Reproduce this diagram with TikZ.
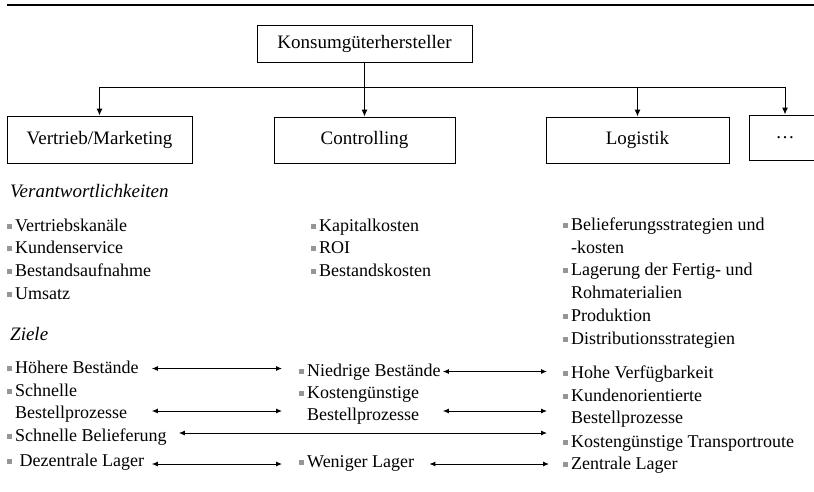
\documentclass[tikz,border=0pt]{standalone}
\usepackage{fontspec}
\setmainfont{Liberation Serif}
\usepackage{tikz}
\usetikzlibrary{calc, arrows.meta}
\definecolor{bulletgray}{RGB}{150,150,150}
\newcommand{\sqb}{{\color{bulletgray}\rule[2.5pt]{5pt}{5pt}}\hspace{3pt}}
\newcommand{\hang}{\hspace{8pt}}

\begin{document}
\begin{tikzpicture}[x=1pt, y=-1pt,
    box/.style={draw, line width=1pt, inner sep=0pt, font=\fontsize{19}{23}\selectfont},
    lst/.style={inner sep=0pt, anchor=north west, align=left, font=\fontsize{18}{22.8}\selectfont},
    goal/.style={inner sep=0pt, anchor=base west, font=\fontsize{18}{22.8}\selectfont, text height=13pt, text depth=4pt},
    head/.style={inner sep=0pt, anchor=base west, font=\fontsize{19}{23}\selectfont\itshape},
    zarrow/.style={{Latex[length=6pt, width=5pt]}-{Latex[length=6pt, width=5pt]}, line width=0.9pt}]
            \useasboundingbox (0,0) rectangle (814,491);
            \draw[line width=1.5pt] (7,5) -- (814,5);

            % Organigramm
            \node[box, minimum width=215pt, minimum height=37pt] (konsum) at (364.5,43.5) {Konsumgüterhersteller};
            \node[box, minimum width=185pt, minimum height=47pt] (vertrieb) at (99.5,139.5) {Vertrieb/Marketing};
            \node[box, minimum width=181pt, minimum height=46pt] (controlling) at (364.5,140) {Controlling};
            \node[box, minimum width=183pt, minimum height=46pt] (logistik) at (637.5,140) {Logistik};
            \node[box, minimum width=72pt, minimum height=45pt] (weitere) at (785,137.5) {…};
            \coordinate (bus) at (364.5,87);
            \draw[line width=1pt] (konsum.south) -- (bus);
            \foreach \n in {vertrieb,controlling,logistik,weitere}
                \draw[line width=1pt, -{Latex[length=7pt, width=6pt]}] (bus) -| (\n.north);

            % Verantwortlichkeiten
            \node[head] (verantw) at (10,197) {Verantwortlichkeiten};
            \node[lst] (vertriebL) at (7,218.5) {\sqb Vertriebskanäle\\ \sqb Kundenservice\\ \sqb Bestandsaufnahme\\ \sqb Umsatz};
            \node[lst] (controllingL) at (311,218.5) {\sqb Kapitalkosten\\ \sqb ROI\\ \sqb Bestandskosten};
            \node[lst] (logistikL) at (563,217.5) {\sqb Belieferungsstrategien und\\ \hang -kosten\\ \sqb Lagerung der Fertig- und\\ \hang Rohmaterialien\\ \sqb Produktion\\ \sqb Distributionsstrategien};

            % Ziele
            \node[head] (ziele) at (10,340) {Ziele};
            \node[goal] (hoeher) at (7,373) {\sqb Höhere Bestände};
            \node[goal] (schnell) at (7,396) {\sqb Schnelle};
            \node[goal] (bestA) at (7,418) {\hang Bestellprozesse};
            \node[goal] (beliefer) at (7,441) {\sqb Schnelle Belieferung};
            \node[goal] (dezentral) at (7,466) {\sqb\ Dezentrale Lager};

            \node[goal] (niedrig) at (299,376) {\sqb Niedrige Bestände};
            \node[goal] (kostenB) at (299,398) {\sqb Kostengünstige};
            \node[goal] (bestB) at (299,420) {\hang Bestellprozesse};
            \node[goal] (weniger) at (299,467) {\sqb Weniger Lager};

            \node[goal] (hohe) at (563,378) {\sqb Hohe Verfügbarkeit};
            \node[goal] (kunden) at (563,401) {\sqb Kundenorientierte};
            \node[goal] (bestC) at (563,423) {\hang Bestellprozesse};
            \node[goal] (transport) at (563,447) {\sqb Kostengünstige Transportroute};
            \node[goal] (zentral) at (563,469) {\sqb Zentrale Lager};

            % Zielkonflikte
            \draw[zarrow] ([xshift=13pt]hoeher.east) -- ([xshift=-17pt]niedrig.west |- hoeher.east);
            \draw[zarrow] ([xshift=2pt]niedrig.east) -- ([xshift=-16pt]hohe.west |- niedrig.east);
            \draw[zarrow] ([xshift=13pt,yshift=2.5pt]hoeher.east |- bestA.east) -- ([xshift=-17pt,yshift=2.5pt]kostenB.west |- bestA.east);
            \draw[zarrow] ([xshift=2pt,yshift=4.5pt]niedrig.east |- bestB.east) -- ([xshift=-16pt,yshift=4.5pt]hohe.west |- bestB.east);
            \draw[zarrow] ([xshift=12pt,yshift=3.5pt]beliefer.east) -- ([xshift=-16pt,yshift=3.5pt]transport.west |- beliefer.east);
            \draw[zarrow] ([xshift=13pt,yshift=-2.5pt]hoeher.east |- dezentral.east) -- ([xshift=-17pt,yshift=-2.5pt]weniger.west |- dezentral.east);
            \draw[zarrow] ([xshift=15pt,yshift=-1.5pt]weniger.east) -- ([xshift=-14pt,yshift=-1.5pt]zentral.west |- weniger.east);
\end{tikzpicture}
\end{document}
